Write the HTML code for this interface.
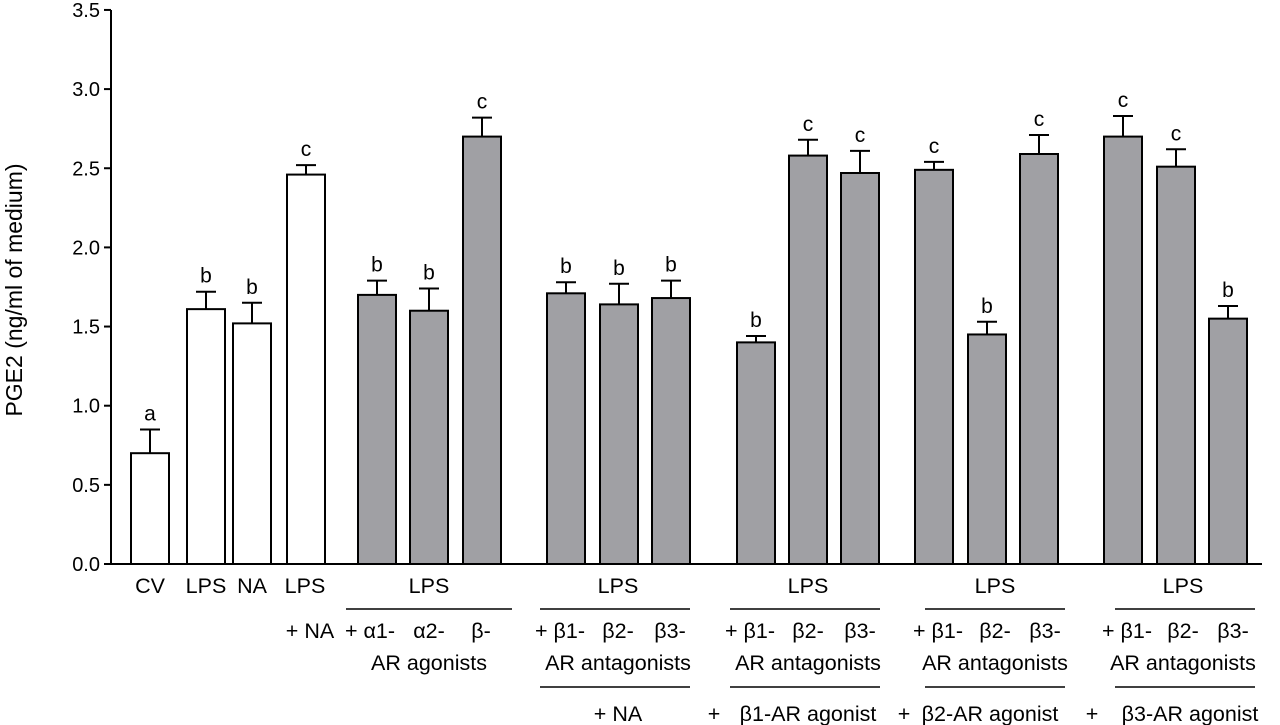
<!DOCTYPE html>
<html><head><meta charset="utf-8"><style>
body{margin:0;background:#fff;}
svg{display:block;font-family:"Liberation Sans",Arial,sans-serif;}
</style></head><body>
<svg id="c" width="1280" height="725"></svg>
<script>
const categories=["CV","LPS","NA","LPS+NA","a1","a2","b","b1ant","b2ant","b3ant","b1ant+b1ag","b2ant+b1ag","b3ant+b1ag","b1ant+b2ag","b2ant+b2ag","b3ant+b2ag","b1ant+b3ag","b2ant+b3ag","b3ant+b3ag"];
const values=[0.70,1.61,1.52,2.46,1.70,1.60,2.70,1.71,1.64,1.68,1.40,2.58,2.47,2.49,1.45,2.59,2.70,2.51,1.55];
const errors=[0.15,0.11,0.13,0.06,0.09,0.14,0.12,0.07,0.13,0.11,0.04,0.10,0.14,0.05,0.08,0.12,0.13,0.11,0.08];
const letters=["a","b","b","c","b","b","c","b","b","b","b","c","c","c","b","c","c","c","b"];
const fills=["#fff","#fff","#fff","#fff","#a0a0a4","#a0a0a4","#a0a0a4","#a0a0a4","#a0a0a4","#a0a0a4","#a0a0a4","#a0a0a4","#a0a0a4","#a0a0a4","#a0a0a4","#a0a0a4","#a0a0a4","#a0a0a4","#a0a0a4"];
const yTicks=["0.0","0.5","1.0","1.5","2.0","2.5","3.0","3.5"];
const barLeft=[131,187,233,287,358,410,463,547,600,652,737,789,841,915,968,1020,1104,1157,1209];
const NS="http://www.w3.org/2000/svg";
const svg=document.getElementById('c');
const y=v=>564-v*158.3;
function el(t,a,txt){const e=document.createElementNS(NS,t);for(const k in a)e.setAttribute(k,a[k]);if(txt!==undefined)e.textContent=txt;svg.appendChild(e);return e;}
let ax=el('line',{x1:111,y1:10,x2:111,y2:565,stroke:'#000','stroke-width':2});


let bx=el('line',{x1:110,y1:564,x2:1262,y2:564,stroke:'#000','stroke-width':2});


yTicks.forEach(t=>{const v=parseFloat(t);
 const l=el('line',{x1:104,y1:y(v),x2:111,y2:y(v),stroke:'#000','stroke-width':2});
 
 
 const tx=el('text',{x:100,y:y(v)+7,'text-anchor':'end','font-size':20},t);
 
 
});
const yt=el('text',{x:0,y:0,transform:'translate(22,290) rotate(-90)','text-anchor':'middle','font-size':23},'PGE2 (ng/ml of medium)');


values.forEach((v,i)=>{
 const x=barLeft[i],w=38,cx=x+w/2,top=y(v+errors[i]);
 const eb=el('line',{x1:cx,y1:y(v),x2:cx,y2:top,stroke:'#000','stroke-width':2});
 
 
 const cap=el('line',{x1:cx-10,y1:top,x2:cx+10,y2:top,stroke:'#000','stroke-width':2});
 
 
 const r=el('rect',{x:x,y:y(v),width:w,height:564-y(v),fill:fills[i],stroke:'#000','stroke-width':2});
 
 
 const lt=el('text',{x:cx,y:top-9,'text-anchor':'middle','font-size':21},letters[i]);
 
 
});
const labels=[
 [150,593,'CV'],[206,593,'LPS'],[252,593,'NA'],[305,593,'LPS'],[310,638,'+ NA'],
 [429,593,'LPS'],[370,638,'+ α1-'],[429,638,'α2-'],[481,638,'β-'],[429,670,'AR agonists'],
 [618,593,'LPS'],[560,638,'+ β1-'],[618,638,'β2-'],[670,638,'β3-'],[618,670,'AR antagonists'],[618,721,'+ NA'],
 [808,593,'LPS'],[750,638,'+ β1-'],[808,638,'β2-'],[860,638,'β3-'],[808,670,'AR antagonists'],[714,721,'+'],[808,721,'β1-AR agonist'],
 [995,593,'LPS'],[938,638,'+ β1-'],[995,638,'β2-'],[1045,638,'β3-'],[995,670,'AR antagonists'],[904,721,'+'],[990,721,'β2-AR agonist'],
 [1183,593,'LPS'],[1127,638,'+ β1-'],[1183,638,'β2-'],[1233,638,'β3-'],[1183,670,'AR antagonists'],[1092,721,'+'],[1190,721,'β3-AR agonist']];
labels.forEach(l=>{const t=el('text',{x:l[0],y:l[1],'text-anchor':'middle','font-size':21.5},l[2]);
 
 });
const lines=[[346,512,609],[540,690,609],[540,690,687],[730,880,609],[730,880,687],[925,1065,609],[925,1065,687],[1115,1255,609],[1115,1255,687]];
lines.forEach(l=>{const e=el('line',{x1:l[0],y1:l[2],x2:l[1],y2:l[2],stroke:'#000','stroke-width':1.5});
 
 });
</script>
</body></html>
